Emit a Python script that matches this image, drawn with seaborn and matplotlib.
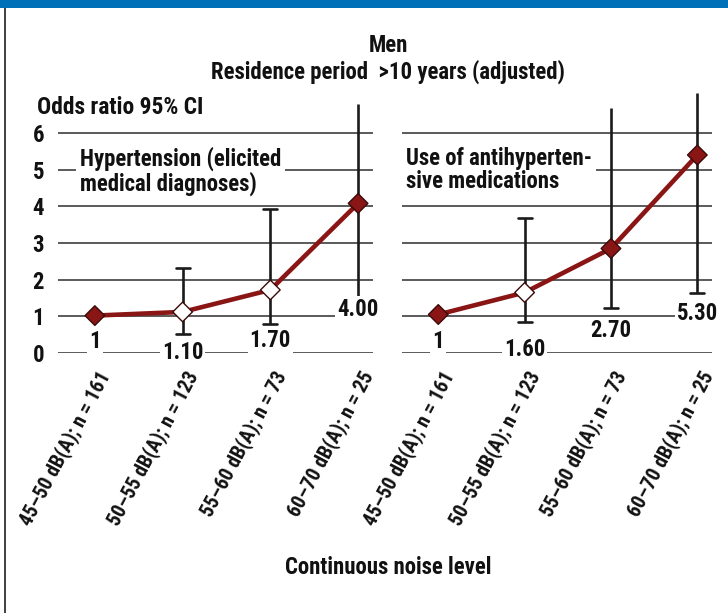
import matplotlib
matplotlib.use("Agg")
import matplotlib.pyplot as plt
from matplotlib import font_manager as fm
from matplotlib.transforms import ScaledTranslation
import seaborn as sns
import pandas as pd
from matplotlib.patches import Rectangle

noise_levels = ["45–50 dB(A); n = 161", "50–55 dB(A); n = 123",
                "55–60 dB(A); n = 73", "60–70 dB(A); n = 25"]

# hypertension (elicited medical diagnoses)
hyp_or = [1.02, 1.12, 1.72, 4.08]
hyp_lo = [None, 0.52, 0.79, 1.33]
hyp_hi = [None, 2.32, 3.92, 6.8]
hyp_sig = [True, False, False, True]
hyp_labels = ["1", "1.10", "1.70", "4.00"]

# use of antihypertensive medications
med_or = [1.05, 1.65, 2.85, 5.4]
med_lo = [None, 0.85, 1.23, 1.63]
med_hi = [None, 3.68, 6.67, 7.08]
med_sig = [True, False, True, True]
med_labels = ["1", "1.60", "2.70", "5.30"]

LINE = "#8a1515"

# look for a narrow bold face, the original uses a condensed grotesque
names = {(f.name, f.stretch) for f in fm.fontManager.ttflist}
stretch = "normal"
if any(n == "Liberation Sans Narrow" for n, _ in names):
    FONT, scale = ["Liberation Sans Narrow", "DejaVu Sans"], 1.0
elif any(n == "Roboto Condensed" for n, _ in names):
    FONT, scale = ["Roboto Condensed", "DejaVu Sans"], 1.06
elif any(n == "DejaVu Sans" and s in ("condensed", 87.5, "semi-condensed") for n, s in names):
    FONT, scale, stretch = ["DejaVu Sans", "DejaVu Sans"], 0.92, "condensed"
else:
    FONT, scale = ["Roboto", "DejaVu Sans"], 0.9

def fs(v):
    return v * scale

sns.set_theme(style="white")
plt.rcParams["font.family"] = FONT
plt.rcParams["font.weight"] = "bold"
plt.rcParams["font.stretch"] = stretch

fig = plt.figure(figsize=(7.28, 6.13), dpi=100)
W, H = 728, 613

def px_axes(x0, x1, y_top, y_bot):
    return fig.add_axes([x0 / W, 1 - y_bot / H, (x1 - x0) / W, (y_bot - y_top) / H])

ax1 = px_axes(58, 373, 90, 353)
ax2 = px_axes(402, 712, 90, 353)

ymax = 263 / 36.67

def draw(ax, vals, lo, hi, sig, labels, label_y, title, title_x, show_y):
    df = pd.DataFrame({"x": range(4), "or": vals, "sig": sig})
    ax.set_xlim(-0.42, 3.17)
    ax.set_ylim(0, ymax)
    for y in range(7):
        ax.axhline(y, color="#5a5a5a", lw=1.4, zorder=1)
    for i in range(4):
        if lo[i] is None:
            continue
        ax.plot([i, i], [lo[i], hi[i]], color="#1a1a1a", lw=1.9, zorder=2,
                clip_on=False, solid_capstyle="butt")
        ends = [lo[i]] if hi[i] > 6.2 else [lo[i], hi[i]]
        for e in ends:
            ax.plot([i - 0.08, i + 0.08], [e, e], color="#1a1a1a", lw=1.9, zorder=2,
                    clip_on=False)
    sns.lineplot(data=df, x="x", y="or", ax=ax, color=LINE, lw=3.3, zorder=3)
    sns.scatterplot(data=df, x="x", y="or", hue="sig", palette={True: LINE, False: "white"},
                    marker="D", s=100, edgecolor="#3a0a0a", linewidth=1.0,
                    legend=False, ax=ax, zorder=4)
    for i, ty in enumerate(label_y):
        ax.text(i, ty, labels[i], ha="center", va="center", fontsize=fs(15.5),
                fontweight="bold", color="#111111", zorder=5,
                bbox=dict(facecolor="white", edgecolor="none", pad=1.5))
    ax.text(title_x, 5.62, title, ha="left", va="top", fontsize=fs(15.5),
            fontweight="bold", color="#111111", linespacing=1.0, zorder=5,
            bbox=dict(facecolor="white", edgecolor="none", pad=3))
    ax.set_xlabel("")
    ax.set_ylabel("")
    ax.set_xticks(range(4))
    ax.tick_params(axis="x", length=0, pad=14)
    ax.set_xticklabels(noise_levels, rotation=62, ha="right", va="center",
                       rotation_mode="anchor", fontsize=14.4, fontweight="bold",
                       color="#111111")
    if show_y:
        ax.set_yticks(range(7))
        ax.set_yticklabels([str(v) for v in range(7)], fontsize=fs(15.5),
                           fontweight="bold", color="#111111")
        ax.tick_params(axis="y", length=0, pad=10)
    else:
        ax.set_yticks([])
    # nudge the slanted labels right, after tick_params so the pad reset does not undo it
    shift = ScaledTranslation(11 / 100, 0, fig.dpi_scale_trans)
    for lab in ax.get_xticklabels():
        lab.set_transform(lab.get_transform() + shift)
    for s in ax.spines.values():
        s.set_visible(False)
    ax.patch.set_alpha(0)

draw(ax1, hyp_or, hyp_lo, hyp_hi, hyp_sig, hyp_labels,
     [0.3, 0.02, 0.35, 1.18],
     "Hypertension (elicited\nmedical diagnoses)", -0.17, True)
draw(ax2, med_or, med_lo, med_hi, med_sig, med_labels,
     [0.3, 0.1, 0.62, 1.08],
     "Use of antihyperten-\nsive medications", -0.37, False)

fig.text(388 / W, 1 - 46 / H, "Men", ha="center", va="center", fontsize=fs(15.5),
         fontweight="bold", color="#111111")
fig.text(388 / W, 1 - 72 / H, "Residence period  >10 years (adjusted)", ha="center",
         va="center", fontsize=fs(15.5), fontweight="bold", color="#111111")
fig.text(37 / W, 1 - 108 / H, "Odds ratio 95% CI", ha="left", va="center",
         fontsize=fs(16), fontweight="bold", color="#111111")
fig.text(388 / W, 1 - 568 / H, "Continuous noise level", ha="center", va="center",
         fontsize=fs(15.5), fontweight="bold", color="#111111")

fig.patches.append(Rectangle((0, 1 - 8 / H), 1, 8 / H, transform=fig.transFigure,
                             facecolor="#0071b8", edgecolor="none"))
fig.patches.append(Rectangle((4 / W, 0), 2 / W, 1 - 8 / H, transform=fig.transFigure,
                             facecolor="#444444", edgecolor="none"))

fig.savefig("out.png", dpi=100)
